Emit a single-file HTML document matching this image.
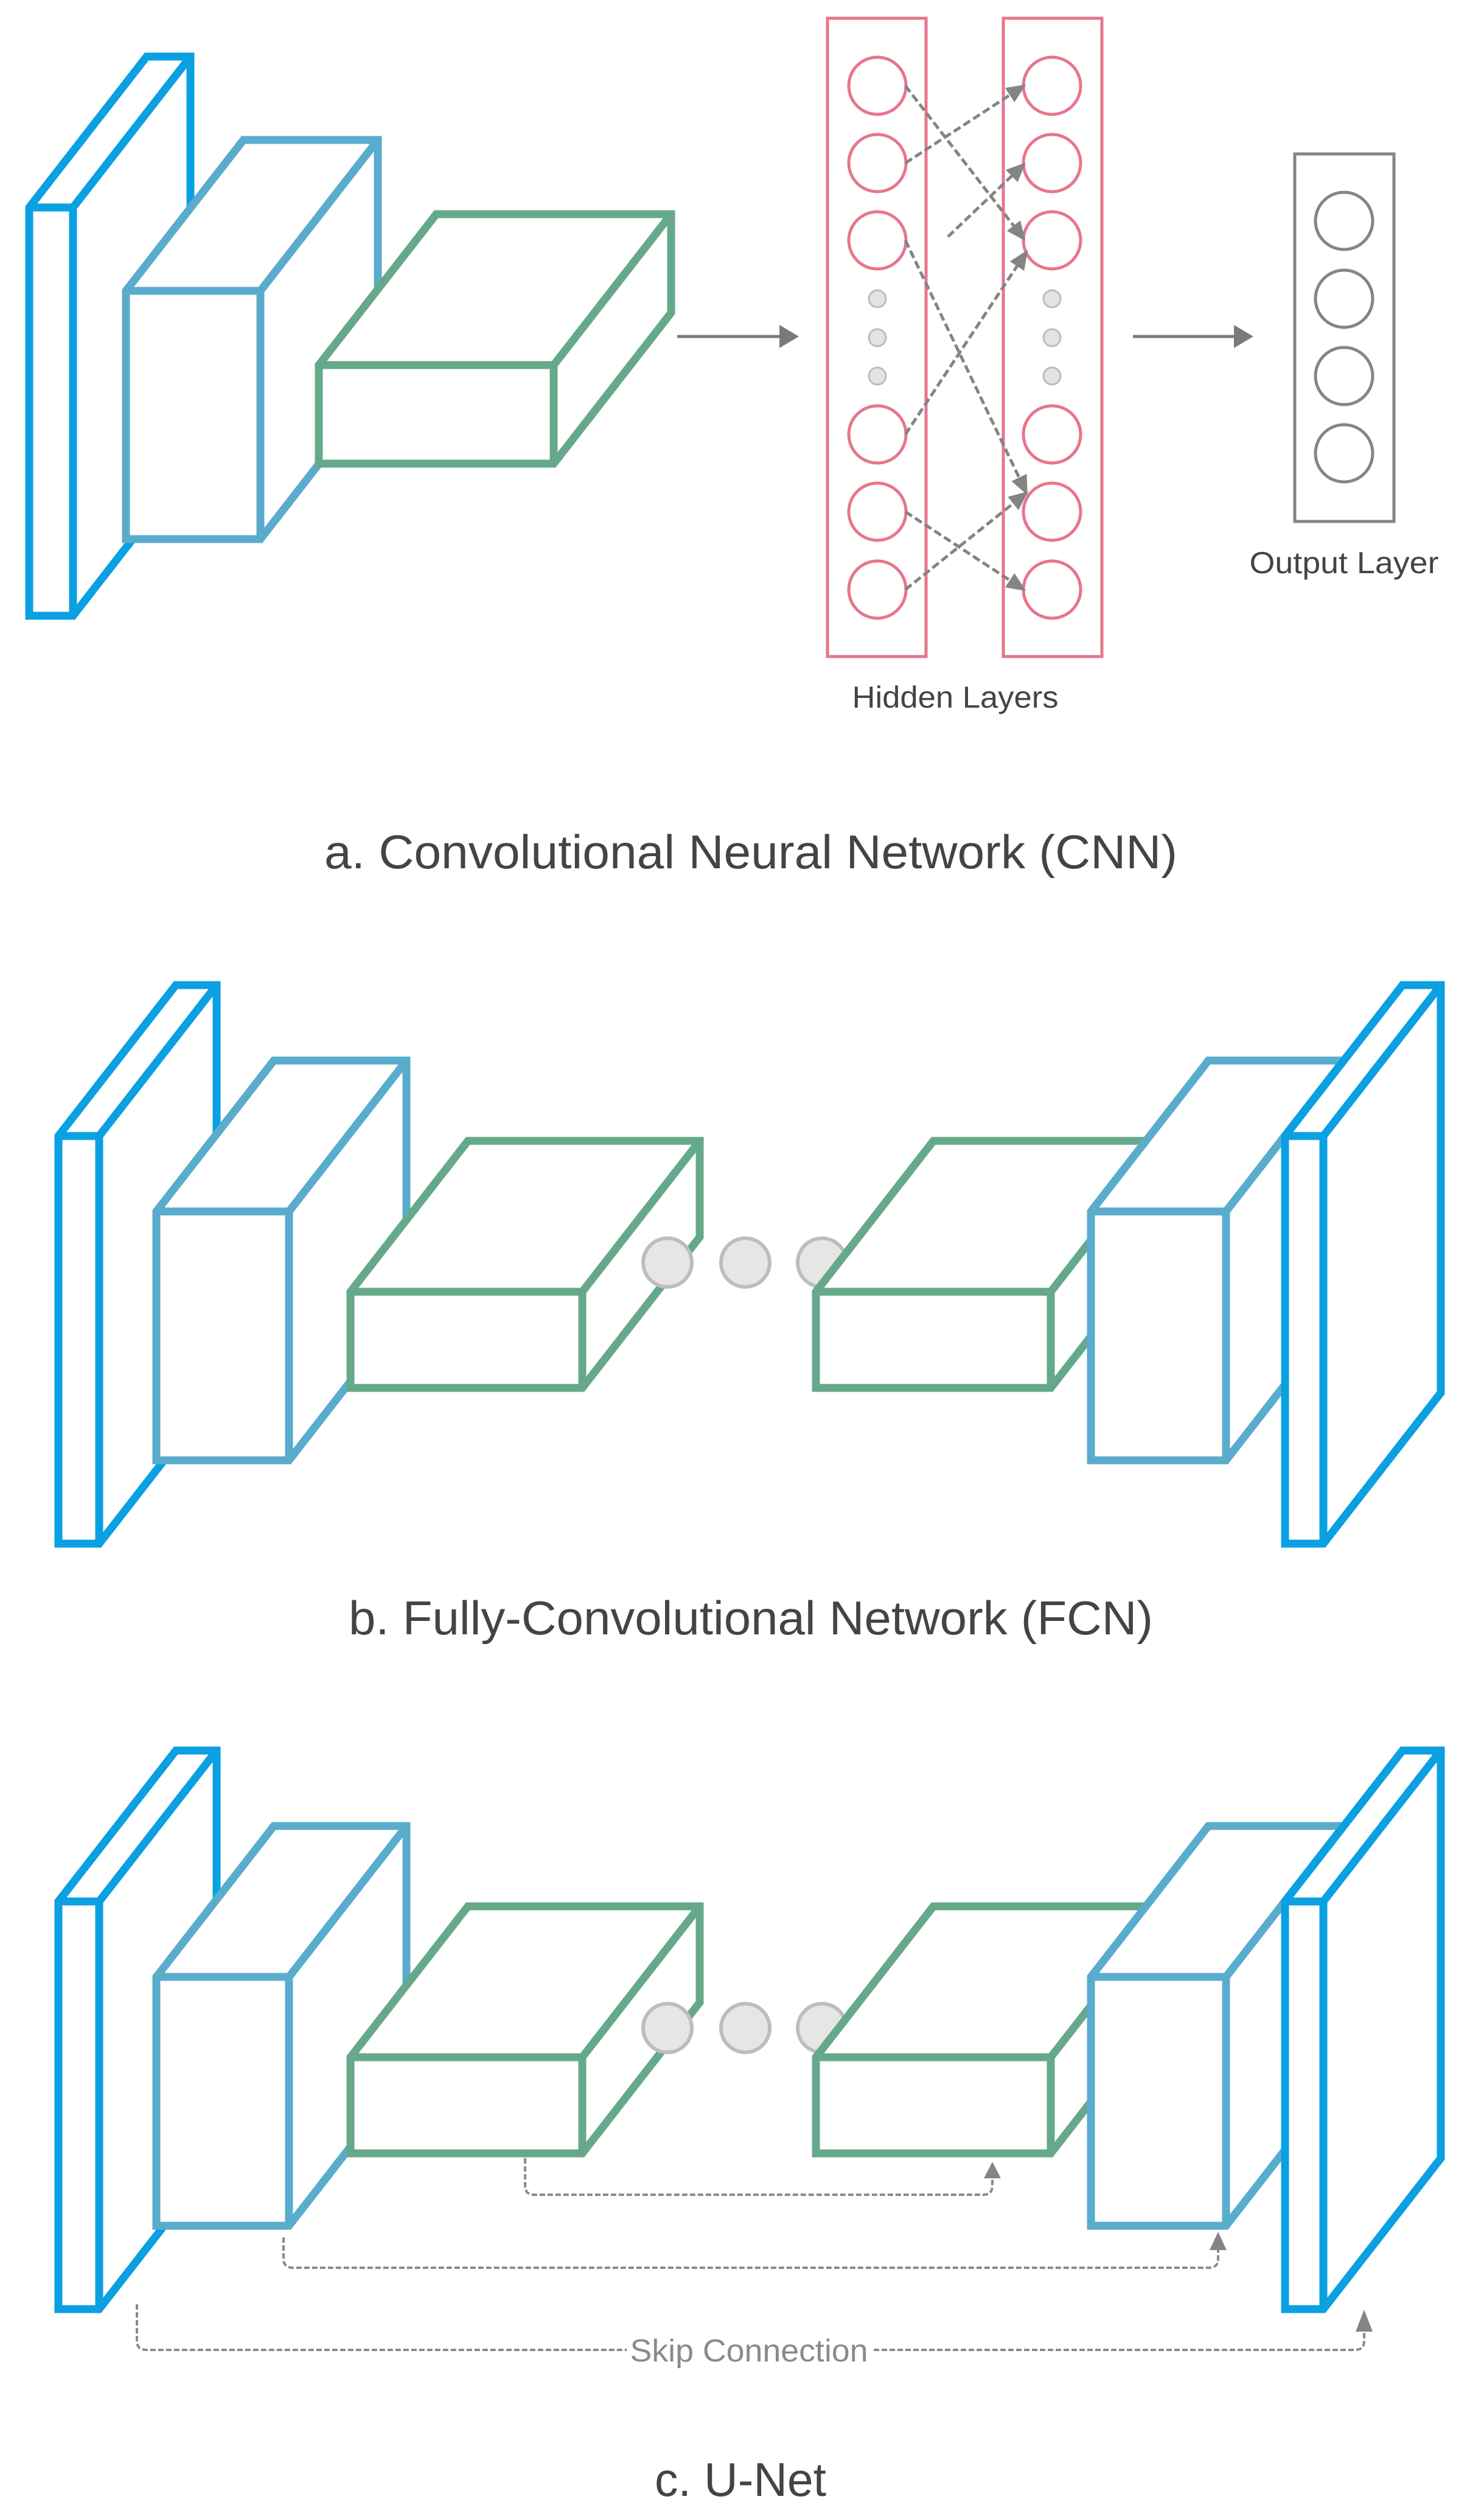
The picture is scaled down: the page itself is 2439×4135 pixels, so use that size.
<!DOCTYPE html>
<html><head><meta charset="utf-8"><style>html,body{margin:0;padding:0;background:#fff}svg{display:block}</style></head>
<body>
<svg xmlns="http://www.w3.org/2000/svg" width="2439" height="4135" viewBox="0 0 2439 4135">
<defs>
<marker id="ah" markerWidth="32" markerHeight="28" refX="7" refY="4" orient="auto" markerUnits="userSpaceOnUse" viewBox="0 0 8 8" preserveAspectRatio="none"><path d="M0 0L8 4L0 8Z" fill="#848484"/></marker>
</defs>
<rect width="2439" height="4135" fill="#fff"/>
<g fill="#fff" stroke-width="13" stroke-linejoin="miter">
<g stroke="#0aa0e2"><polygon points="48,341 241,93 313,93 313,764 120,1012 48,1012"/><path fill="none" d="M48 341H120V1012M120 341l193 -248"/></g>
<g stroke="#5aaccd"><polygon points="207,478 400,230 621,230 621,638 428,886 207,886"/><path fill="none" d="M207 478H428V886M428 478l193 -248"/></g>
<g stroke="#66a98a"><polygon points="524,600 717,352 1103,352 1103,514 910,762 524,762"/><path fill="none" d="M524 600H910V762M910 600l193 -248"/></g>
</g>
<g stroke="#7a7a7a" stroke-width="5" fill="#7a7a7a">
<line x1="1113" y1="553" x2="1285" y2="553"/><path stroke="none" d="M1281 534L1313 553L1281 572Z"/>
<line x1="1862" y1="553" x2="2032" y2="553"/><path stroke="none" d="M2028 534L2060 553L2028 572Z"/>
</g>
<g fill="none" stroke="#e8758c" stroke-width="5">
<rect x="1360" y="30" width="162" height="1049"/>
<rect x="1649" y="30" width="162" height="1049"/>
<circle cx="1442" cy="141" r="47"/><circle cx="1442" cy="268" r="47"/><circle cx="1442" cy="395" r="47"/>
<circle cx="1442" cy="714" r="47"/><circle cx="1442" cy="841" r="47"/><circle cx="1442" cy="969" r="47"/>
<circle cx="1729" cy="141" r="47"/><circle cx="1729" cy="268" r="47"/><circle cx="1729" cy="395" r="47"/>
<circle cx="1729" cy="714" r="47"/><circle cx="1729" cy="841" r="47"/><circle cx="1729" cy="969" r="47"/>
</g>
<g fill="#e4e2e4" stroke="#bdbdbd" stroke-width="3">
<circle cx="1442" cy="491" r="14"/><circle cx="1442" cy="555" r="14"/><circle cx="1442" cy="618" r="14"/>
<circle cx="1729" cy="491" r="14"/><circle cx="1729" cy="555" r="14"/><circle cx="1729" cy="618" r="14"/>
</g>
<g stroke="#848484" stroke-width="5" stroke-dasharray="13 6" fill="none">
<line x1="1488" y1="141" x2="1683" y2="393" marker-end="url(#ah)"/>
<line x1="1488" y1="268" x2="1683" y2="141" marker-end="url(#ah)"/>
<line x1="1558" y1="389" x2="1683" y2="270" marker-end="url(#ah)"/>
<line x1="1488" y1="395" x2="1687" y2="810" marker-end="url(#ah)"/>
<line x1="1488" y1="714" x2="1687" y2="414" marker-end="url(#ah)"/>
<line x1="1488" y1="841" x2="1683" y2="969" marker-end="url(#ah)"/>
<line x1="1488" y1="969" x2="1687" y2="810" marker-end="url(#ah)"/>
</g>
<g fill="none" stroke="#858585" stroke-width="5">
<rect x="2128" y="253" width="163" height="604"/>
<circle cx="2209" cy="363" r="47"/><circle cx="2209" cy="491" r="47"/><circle cx="2209" cy="618" r="47"/><circle cx="2209" cy="745" r="47"/>
</g>
<g font-family="'Liberation Sans', sans-serif" fill="#444" text-anchor="middle">
<text x="2209" y="942" font-size="50" textLength="311" lengthAdjust="spacingAndGlyphs">Output Layer</text>
<text x="1570" y="1163" font-size="50" textLength="339" lengthAdjust="spacingAndGlyphs">Hidden Layers</text>
<text x="1234" y="1427" font-size="78" textLength="1402" lengthAdjust="spacingAndGlyphs">a. Convolutional Neural Network (CNN)</text>
<text x="1234" y="2686" font-size="78" textLength="1322" lengthAdjust="spacingAndGlyphs">b. Fully-Convolutional Network (FCN)</text>
<text x="1217" y="4102" font-size="78" textLength="282" lengthAdjust="spacingAndGlyphs">c. U-Net</text>
</g>
<g id="net">
<g fill="#fff" stroke-width="13">
<g stroke="#0aa0e2"><polygon points="96,1867 289,1619 356,1619 356,2289 163,2537 96,2537"/><path fill="none" d="M96 1867H163V2537M163 1867l193 -248"/></g>
<g stroke="#5aaccd"><polygon points="257,1991 450,1743 668,1743 668,2152 475,2400 257,2400"/><path fill="none" d="M257 1991H475V2400M475 1991l193 -248"/></g>
<g stroke="#66a98a"><polygon points="576,2123 769,1875 1150,1875 1150,2033 957,2281 576,2281"/><path fill="none" d="M576 2123H957V2281M957 2123l193 -248"/></g>
</g>
<g fill="#e6e6e6" stroke="#bdbdbd" stroke-width="6">
<circle cx="1097" cy="2075" r="40"/><circle cx="1225" cy="2075" r="40"/><circle cx="1351" cy="2075" r="40"/>
</g>
<g fill="#fff" stroke-width="13">
<g stroke="#66a98a"><polygon points="1341,2123 1534,1875 1920,1875 1920,2033 1727,2281 1341,2281"/><path fill="none" d="M1341 2123H1727V2281M1727 2123l193 -248"/></g>
<g stroke="#5aaccd"><polygon points="1793,1991 1986,1743 2208,1743 2208,2152 2015,2400 1793,2400"/><path fill="none" d="M1793 1991H2015V2400M2015 1991l193 -248"/></g>
<g stroke="#0aa0e2"><polygon points="2112,1867 2305,1619 2368,1619 2368,2289 2175,2537 2112,2537"/><path fill="none" d="M2112 1867H2175V2537M2175 1867l193 -248"/></g>
</g>
</g>
<use href="#net" transform="translate(0,1258)"/>
<g fill="none" stroke="#8a8a8a" stroke-width="4" stroke-dasharray="9 4">
<path d="M863 3547V3592Q863 3607 878 3607H1616Q1631 3607 1631 3592V3580"/>
<path d="M466 3677V3712Q466 3727 481 3727H1987Q2002 3727 2002 3712V3698"/>
<path d="M225 3787V3847Q225 3862 240 3862H1030M1436 3862H2227Q2242 3862 2242 3847V3832"/>
</g>
<g fill="#848484">
<path d="M1617 3580L1631 3553L1645 3580Z"/>
<path d="M1988 3698L2002 3668L2016 3698Z"/>
<path d="M2228 3832L2242 3796L2256 3832Z"/>
</g>
<text x="1231" y="3881" font-family="'Liberation Sans', sans-serif" font-size="52" fill="#8a8a8a" text-anchor="middle" textLength="391" lengthAdjust="spacingAndGlyphs">Skip Connection</text>
</svg>
</body></html>
